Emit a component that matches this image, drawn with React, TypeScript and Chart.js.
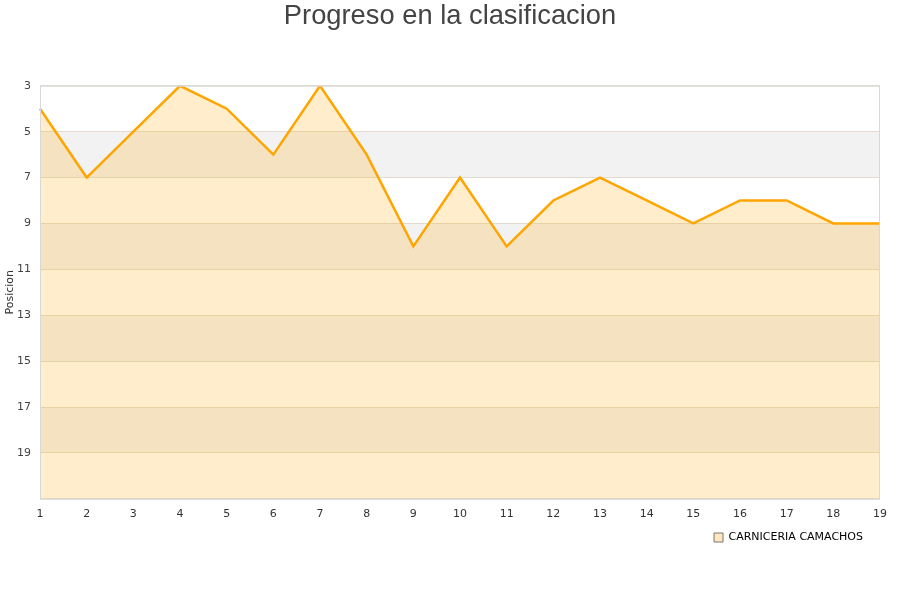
import React, { useEffect, useRef } from "react";
import Chart from "chart.js/auto";

const jornadas = ["1", "2", "3", "4", "5", "6", "7", "8", "9", "10", "11", "12", "13", "14", "15", "16", "17", "18", "19"];
const posiciones = [4, 7, 5, 3, 4, 6, 3, 6, 10, 7, 10, 8, 7, 8, 9, 8, 8, 9, 9];
const equipo = "CARNICERIA CAMACHOS";
// grey bands between these positions
const bandas = [[5, 7], [9, 11], [13, 15], [17, 19]];

const bandPlugin = {
  id: "bands",
  afterLayout(chart: any) {
    // centre the title on the whole canvas, not on the padded box
    if (chart.titleBlock) {
      chart.titleBlock.left = 0;
      chart.titleBlock.right = chart.width;
      chart.titleBlock.width = chart.width;
    }
  },
  beforeDraw(chart: any) {
    const { ctx, chartArea, scales } = chart;
    const y = scales.y;
    ctx.save();
    ctx.fillStyle = "#f2f2f2";
    bandas.forEach(([a, b]) => {
      const p1 = y.getPixelForValue(a);
      const p2 = y.getPixelForValue(b);
      ctx.fillRect(chartArea.left, Math.min(p1, p2), chartArea.right - chartArea.left, Math.abs(p2 - p1));
    });
    ctx.restore();
  },
  afterDatasetsDraw(chart: any) {
    const { ctx, chartArea } = chart;
    ctx.save();
    ctx.strokeStyle = "#d8d8d8";
    ctx.lineWidth = 1;
    ctx.strokeRect(chartArea.left + 0.5, chartArea.top + 0.5, chartArea.right - chartArea.left - 1, chartArea.bottom - chartArea.top);
    ctx.restore();
  },
};

const App = () => {
  const chartRef = useRef<HTMLCanvasElement>(null);
  const chartInstance = useRef<any>(null);

  useEffect(() => {
    document.body.style.margin = "0";
    if (!chartRef.current) return;
    const ctx: any = chartRef.current.getContext("2d");
    if (chartInstance.current) chartInstance.current.destroy();

    chartInstance.current = new Chart(ctx, {
      type: "line",
      data: {
        labels: jornadas,
        datasets: [
          {
            label: equipo,
            data: posiciones,
            borderColor: "#ffa500",
            backgroundColor: "rgba(255,165,0,0.2)",
            borderWidth: 2.5,
            pointRadius: 0,
            tension: 0,
            fill: "start",
          },
        ],
      },
      options: {
        animation: false,
        responsive: false,
        layout: { padding: { left: 0, right: 20, top: 0, bottom: 47 } },
        plugins: {
          title: {
            display: true,
            text: "Progreso en la clasificacion",
            color: "#444",
            font: { family: "Liberation Sans", size: 27.3, weight: "normal" },
            padding: { top: 0, bottom: 53 },
          },
          legend: {
            position: "bottom",
            align: "end",
            labels: {
              color: "#000",
              boxWidth: 9,
              boxHeight: 9,
              padding: 10,
              font: { family: "DejaVu Sans", size: 11 },
              generateLabels: (c: any) =>
                c.data.datasets.map((d: any, i: number) => ({
                  text: d.label + "  ",
                  fillStyle: "rgba(255,165,0,0.25)",
                  strokeStyle: "#777",
                  lineWidth: 1,
                  datasetIndex: i,
                })),
            },
          },
          tooltip: { enabled: false },
        },
        scales: {
          x: {
            offset: false,
            grid: { display: false },
            border: { display: false },
            ticks: {
              color: "#333",
              padding: 1,
              maxRotation: 0,
              autoSkip: false,
              font: { family: "DejaVu Sans", size: 11 },
            },
          },
          y: {
            reverse: true,
            min: 3,
            max: 21,
            afterFit: (s: any) => {
              s.width = 40;
            },
            grid: { color: "#e2dccf", drawTicks: false },
            border: { display: false },
            ticks: {
              stepSize: 2,
              color: "#444",
              padding: 9,
              font: { family: "DejaVu Sans", size: 11 },
              callback: (v: any) => (v === 21 ? "" : v),
            },
            title: {
              display: true,
              text: "Posicion",
              color: "#333",
              padding: { top: 4, bottom: 0 },
              font: { family: "DejaVu Sans", size: 11 },
            },
          },
        },
      },
      plugins: [bandPlugin],
    });

    return () => {
      if (chartInstance.current) {
        chartInstance.current.destroy();
        chartInstance.current = null;
      }
    };
  }, []);

  return (
    <div style={{ width: 900, height: 600 }}>
      <canvas ref={chartRef} width={900} height={600} />
    </div>
  );
};

export default App;
